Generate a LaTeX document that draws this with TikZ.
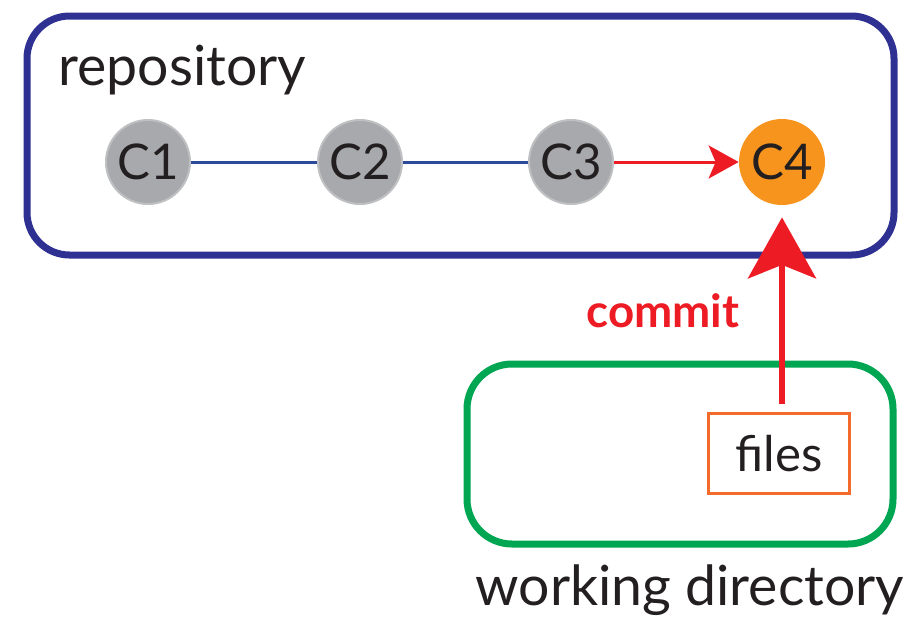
\documentclass[tikz,border=0pt]{standalone}
\usepackage{fontspec}
\setmainfont{Lato}
\usepackage{tikz}
\usetikzlibrary{arrows.meta}
\definecolor{repoblue}{HTML}{2E3192}
\definecolor{linkblue}{HTML}{2B4A9A}
\definecolor{dirgreen}{HTML}{00A651}
\definecolor{commitred}{HTML}{ED1C24}
\definecolor{headorange}{HTML}{F7941D}
\definecolor{fileorange}{HTML}{F26B2A}
\definecolor{oldgrey}{HTML}{A7A9AC}
\definecolor{oldrim}{HTML}{BEC0C2}
\definecolor{inktext}{HTML}{231F20}
\pgfdeclarelayer{boxlayer}
\pgfdeclarelayer{edgelayer}
\pgfdeclarelayer{nodelayer}
\pgfsetlayers{boxlayer,edgelayer,nodelayer,main}
\tikzstyle{none}=[inner sep=0pt,text=inktext]
\tikzstyle{area}=[rectangle,rounded corners=0.85cm,line width=0.14cm,inner sep=0pt]
\tikzstyle{commit}=[circle,fill=oldgrey,draw=oldrim,line width=0.04cm,minimum size=1.68cm,inner sep=0pt,text=inktext,font=\fontsize{28}{30}\selectfont]
\tikzstyle{head}=[circle,fill=headorange,minimum size=1.72cm,inner sep=0pt,text=inktext,font=\fontsize{28}{30}\selectfont]
\tikzstyle{filebox}=[rectangle,draw=fileorange,line width=0.06cm,minimum width=2.82cm,minimum height=1.60cm,inner sep=0pt,text=inktext,font=\fontsize{28}{30}\selectfont]
\tikzstyle{link}=[-,draw=linkblue,line width=0.06cm]
\tikzstyle{inarrow}=[-{Stealth[length=0.6cm,width=0.66cm,inset=0.14cm]},draw=commitred,line width=0.06cm]
\tikzstyle{bigarrow}=[-{Stealth[length=1.22cm,width=1.36cm,inset=0.27cm]},draw=commitred,line width=0.12cm]

\begin{document}
\begin{tikzpicture}
	\useasboundingbox (0,0) rectangle (18.22,-12.34);
	\begin{pgfonlayer}{boxlayer}
		\node [style=area, draw=repoblue, minimum width=17.34cm, minimum height=4.78cm] (repo) at (9.21, -2.71) {};
		\node [style=area, draw=dirgreen, rounded corners=0.9cm, minimum width=8.52cm, minimum height=3.60cm] (wd) at (13.60, -9.08) {};
	\end{pgfonlayer}
	\begin{pgfonlayer}{nodelayer}
		\node [style=none, anchor=base west, font=\fontsize{31.5}{34}\selectfont] (repolabel) at (1.16, -1.70) {repository};
		\node [style=commit] (C1) at (2.96, -3.24) {C1};
		\node [style=commit] (C2) at (7.20, -3.24) {C2};
		\node [style=commit] (C3) at (11.42, -3.24) {C3};
		\node [style=head] (C4) at (15.64, -3.24) {C4};
		\node [style=filebox] (files) at (15.58, -9.07) {files};
		\node [style=none, anchor=base, text=commitred, font=\fontsize{26}{28}\selectfont\bfseries] (commitlabel) at (13.26, -6.54) {commit};
		\node [style=none, anchor=base, font=\fontsize{31.5}{34}\selectfont] (wdlabel) at (13.80, -12.10) {working directory};
	\end{pgfonlayer}
	\begin{pgfonlayer}{edgelayer}
		\draw [style=link] (C1) to (C2);
		\draw [style=link] (C2) to (C3);
		\draw [style=inarrow] (C3) to (C4);
		\draw [style=bigarrow, shorten <=0.16cm, shorten >=0.24cm] (files.north -| C4.south) to (C4.south);
	\end{pgfonlayer}
\end{tikzpicture}
\end{document}
